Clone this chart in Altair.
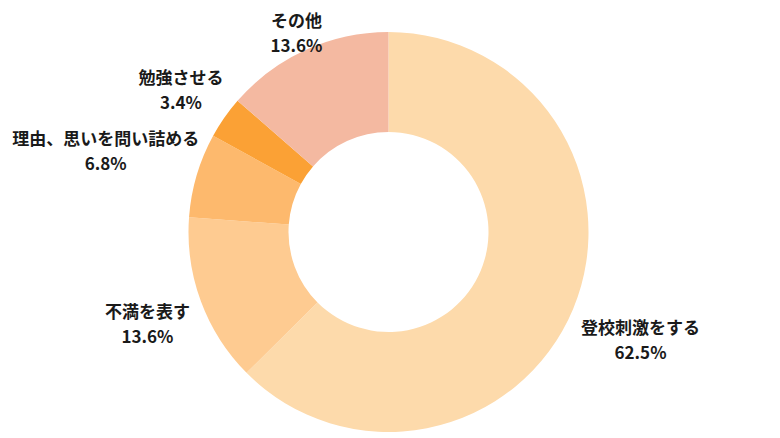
import altair as alt
import pandas as pd

categories = ["登校刺激をする", "不満を表す", "理由、思いを問い詰める", "勉強させる", "その他"]
values = [62.5, 13.6, 6.8, 3.4, 13.6]
colors = ["#FDDAAB", "#FECB91", "#FDB96D", "#FBA135", "#F4B9A1"]
label_radius = [273, 257, 295, 253, 222]

df = pd.DataFrame({
    "cat": categories,
    "val": values,
    "idx": list(range(len(categories))),
    "lr": label_radius,
})
df["label"] = [f"{c}\n{v:.1f}%" for c, v in zip(categories, values)]
total = float(sum(values))

base = alt.Chart(df).transform_window(
    end="sum(val)", sort=[alt.SortField("idx", order="ascending")], frame=[None, 0]
).transform_calculate(
    start="datum.end - datum.val",
    mid="datum.end - datum.val / 2",
)

tscale = alt.Scale(domain=[0, total])

arcs = base.mark_arc(outerRadius=200, innerRadius=100, stroke=None).encode(
    theta=alt.Theta("start:Q", scale=tscale),
    theta2="end:Q",
    color=alt.Color("cat:N", scale=alt.Scale(domain=categories, range=colors), legend=None),
)

texts = base.mark_text(
    font="Noto Sans CJK JP", fontSize=17, fontWeight="bold", lineBreak="\n",
    lineHeight=25, align="center", baseline="middle", color="#1a1a1a", dy=-8
).encode(
    theta=alt.Theta("mid:Q", scale=tscale),
    text="label:N",
    radius=alt.Radius("lr:Q", scale=None),
)

chart = (arcs + texts).properties(
    width=761, height=400, autosize="none",
    padding={"left": 0, "top": 24, "right": 0, "bottom": 1},
).configure_view(stroke=None)

chart.save("out.html", embed_options={"renderer": "svg", "actions": False})
